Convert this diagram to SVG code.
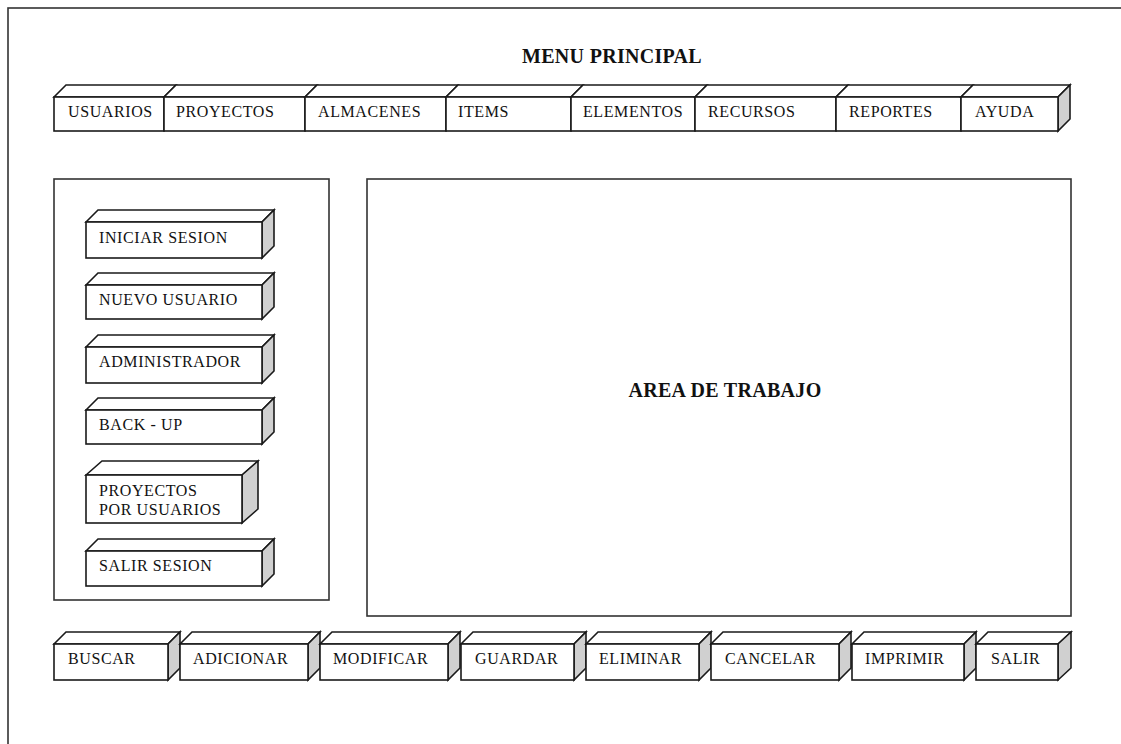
<svg xmlns="http://www.w3.org/2000/svg" width="1121" height="744" viewBox="0 0 1121 744">
<style>
.f{fill:#fff;stroke:#1a1a1a;stroke-width:1.6;stroke-linejoin:miter}
.s{fill:#d0d0d0;stroke:#1a1a1a;stroke-width:1.6;stroke-linejoin:miter}
.p{fill:#fff;stroke:#333;stroke-width:1.6}
.t{font-family:"Liberation Serif","Times New Roman",serif;font-size:16px;letter-spacing:0.6px;fill:#111}
.h{font-family:"Liberation Serif","Times New Roman",serif;font-size:20px;font-weight:bold;letter-spacing:0.3px;fill:#111}
</style>
<rect width="1121" height="744" fill="#fff"/>
<rect id="frame" x="8" y="8" width="1200" height="800" fill="none" stroke="#333" stroke-width="1.6"/>
<text id="title" class="h" x="612" y="63" text-anchor="middle">MENU PRINCIPAL</text>

<g id="top-menu">
<g id="tab-usuarios"><polygon class="f" points="54,97 66,85 176,85 164,97"/><rect class="f" x="54" y="97" width="110" height="34"/><text class="t" x="68" y="117">USUARIOS</text></g>
<g id="tab-proyectos"><polygon class="f" points="164,97 176,85 317,85 305,97"/><rect class="f" x="164" y="97" width="141" height="34"/><text class="t" x="176" y="117">PROYECTOS</text></g>
<g id="tab-almacenes"><polygon class="f" points="305,97 317,85 458,85 446,97"/><rect class="f" x="305" y="97" width="141" height="34"/><text class="t" x="318" y="117">ALMACENES</text></g>
<g id="tab-items"><polygon class="f" points="446,97 458,85 583,85 571,97"/><rect class="f" x="446" y="97" width="125" height="34"/><text class="t" x="458" y="117">ITEMS</text></g>
<g id="tab-elementos"><polygon class="f" points="571,97 583,85 707,85 695,97"/><rect class="f" x="571" y="97" width="124" height="34"/><text class="t" x="583" y="117">ELEMENTOS</text></g>
<g id="tab-recursos"><polygon class="f" points="695,97 707,85 848,85 836,97"/><rect class="f" x="695" y="97" width="141" height="34"/><text class="t" x="708" y="117">RECURSOS</text></g>
<g id="tab-reportes"><polygon class="f" points="836,97 848,85 973,85 961,97"/><rect class="f" x="836" y="97" width="125" height="34"/><text class="t" x="849" y="117">REPORTES</text></g>
<g id="tab-ayuda"><polygon class="f" points="961,97 973,85 1070,85 1058,97"/><polygon class="s" points="1058,97 1070,85 1070,119 1058,131"/><rect class="f" x="961" y="97" width="97" height="34"/><text class="t" x="975" y="117">AYUDA</text></g>
</g>

<g id="side-panel">
<rect class="p" x="54" y="179" width="275" height="421"/>
<g id="btn-iniciar"><polygon class="f" points="86,222 98,210 274,210 262,222"/><polygon class="s" points="262,222 274,210 274,246 262,258"/><rect class="f" x="86" y="222" width="176" height="36"/><text class="t" x="99" y="243">INICIAR SESION</text></g>
<g id="btn-nuevo"><polygon class="f" points="86,285 98,273 274,273 262,285"/><polygon class="s" points="262,285 274,273 274,307 262,319"/><rect class="f" x="86" y="285" width="176" height="34"/><text class="t" x="99" y="305">NUEVO USUARIO</text></g>
<g id="btn-admin"><polygon class="f" points="86,347 98,335 274,335 262,347"/><polygon class="s" points="262,347 274,335 274,371 262,383"/><rect class="f" x="86" y="347" width="176" height="36"/><text class="t" x="99" y="367">ADMINISTRADOR</text></g>
<g id="btn-backup"><polygon class="f" points="86,410 98,398 274,398 262,410"/><polygon class="s" points="262,410 274,398 274,432 262,444"/><rect class="f" x="86" y="410" width="176" height="34"/><text class="t" x="99" y="430">BACK - UP</text></g>
<g id="btn-proyectos"><polygon class="f" points="86,475 102,461 258,461 242,475"/><polygon class="s" points="242,475 258,461 258,509 242,523"/><rect class="f" x="86" y="475" width="156" height="48"/><text class="t" x="99" y="496">PROYECTOS</text><text class="t" x="99" y="515">POR USUARIOS</text></g>
<g id="btn-salir-sesion"><polygon class="f" points="86,551 98,539 274,539 262,551"/><polygon class="s" points="262,551 274,539 274,574 262,586"/><rect class="f" x="86" y="551" width="176" height="35"/><text class="t" x="99" y="571">SALIR SESION</text></g>
</g>

<g id="work-area">
<rect class="p" x="367" y="179" width="704" height="437"/>
<text class="h" x="725" y="397" text-anchor="middle">AREA DE TRABAJO</text>
</g>

<g id="bottom-bar">
<g id="btn-buscar"><polygon class="f" points="54,644 66,632 180,632 168,644"/><polygon class="s" points="168,644 180,632 180,668 168,680"/><rect class="f" x="54" y="644" width="114" height="36"/><text class="t" x="68" y="664">BUSCAR</text></g>
<g id="btn-adicionar"><polygon class="f" points="180,644 192,632 320,632 308,644"/><polygon class="s" points="308,644 320,632 320,668 308,680"/><rect class="f" x="180" y="644" width="128" height="36"/><text class="t" x="193" y="664">ADICIONAR</text></g>
<g id="btn-modificar"><polygon class="f" points="320,644 332,632 460,632 448,644"/><polygon class="s" points="448,644 460,632 460,668 448,680"/><rect class="f" x="320" y="644" width="128" height="36"/><text class="t" x="333" y="664">MODIFICAR</text></g>
<g id="btn-guardar"><polygon class="f" points="461,644 473,632 586,632 574,644"/><polygon class="s" points="574,644 586,632 586,668 574,680"/><rect class="f" x="461" y="644" width="113" height="36"/><text class="t" x="475" y="664">GUARDAR</text></g>
<g id="btn-eliminar"><polygon class="f" points="586,644 598,632 711,632 699,644"/><polygon class="s" points="699,644 711,632 711,668 699,680"/><rect class="f" x="586" y="644" width="113" height="36"/><text class="t" x="599" y="664">ELIMINAR</text></g>
<g id="btn-cancelar"><polygon class="f" points="711,644 723,632 851,632 839,644"/><polygon class="s" points="839,644 851,632 851,668 839,680"/><rect class="f" x="711" y="644" width="128" height="36"/><text class="t" x="725" y="664">CANCELAR</text></g>
<g id="btn-imprimir"><polygon class="f" points="852,644 864,632 976,632 964,644"/><polygon class="s" points="964,644 976,632 976,668 964,680"/><rect class="f" x="852" y="644" width="112" height="36"/><text class="t" x="865" y="664">IMPRIMIR</text></g>
<g id="btn-salir"><polygon class="f" points="976,644 988,632 1071,632 1058,644"/><polygon class="s" points="1058,644 1071,632 1071,668 1058,680"/><rect class="f" x="976" y="644" width="82" height="36"/><text class="t" x="991" y="664">SALIR</text></g>
</g>
</svg>
